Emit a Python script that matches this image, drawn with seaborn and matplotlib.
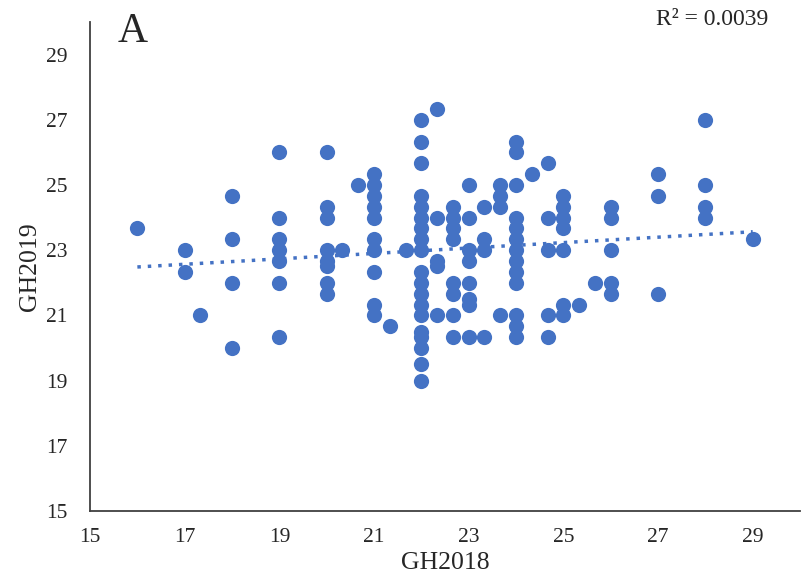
import matplotlib
matplotlib.use("Agg")
import matplotlib.pyplot as plt
import seaborn as sns
import numpy as np
import pandas as pd

# data read column by column (GH2018 value -> list of GH2019 values)
x16 = [23.67]
x17 = [23.0, 22.33]
x17_33 = [21.0]
x18 = [24.67, 23.33, 22.0, 20.0]
x19 = [26.0, 24.0, 23.33, 23.0, 22.67, 22.0, 20.33]
x20 = [26.0, 24.33, 24.0, 23.0, 22.67, 22.5, 22.0, 21.67]
x20_33 = [23.0]
x20_67 = [25.0]
x21 = [25.33, 25.0, 24.67, 24.33, 24.0, 23.33, 23.0, 22.33, 21.33, 21.0]
x21_33 = [20.67]
x21_67 = [23.0]
x22 = [27.0, 26.33, 25.67, 24.67, 24.33, 24.0, 23.67, 23.33, 23.0,
       22.33, 22.0, 21.67, 21.33, 21.0, 20.5, 20.33, 20.0, 19.5, 19.0]
x22_33 = [27.33, 24.0, 22.67, 22.5, 21.0]
x22_67 = [24.33, 24.0, 23.67, 23.33, 22.0, 21.67, 21.0, 20.33]
x23 = [25.0, 24.0, 23.0, 22.67, 22.0, 21.5, 21.33, 20.33]
x23_33 = [24.33, 23.33, 23.0, 20.33]
x23_67 = [25.0, 24.67, 24.33, 21.0]
x24 = [26.33, 26.0, 25.0, 24.0, 23.67, 23.33, 23.0, 22.67, 22.33, 22.0, 21.0, 20.67, 20.33]
x24_33 = [25.33]
x24_67 = [25.67, 24.0, 23.0, 21.0, 20.33]
x25 = [24.67, 24.33, 24.0, 23.67, 23.0, 21.33, 21.0]
x25_33 = [21.33]
x25_67 = [22.0]
x26 = [24.33, 24.0, 23.0, 22.0, 21.67]
x27 = [25.33, 24.67, 21.67]
x28 = [27.0, 25.0, 24.33, 24.0]
x29 = [23.33]

columns = {16: x16, 17: x17, 17.33: x17_33, 18: x18, 19: x19, 20: x20,
           20.33: x20_33, 20.67: x20_67, 21: x21, 21.33: x21_33, 21.67: x21_67,
           22: x22, 22.33: x22_33, 22.67: x22_67, 23: x23, 23.33: x23_33,
           23.67: x23_67, 24: x24, 24.33: x24_33, 24.67: x24_67, 25: x25,
           25.33: x25_33, 25.67: x25_67, 26: x26, 27: x27, 28: x28, 29: x29}

gh2018 = []
gh2019 = []
for k, vals in columns.items():
    for v in vals:
        gh2018.append(k)
        gh2019.append(v)
df = pd.DataFrame({"GH2018": gh2018, "GH2019": gh2019})

xticks = [15, 17, 19, 21, 23, 25, 27, 29]
yticks = [15, 17, 19, 21, 23, 25, 27, 29]

sns.set_style("white")
plt.rcParams['font.family'] = ['Liberation Serif', 'DejaVu Serif']

fig = plt.figure(figsize=(8.01, 5.88), dpi=100)
ax = fig.add_axes([0.1124, 0.131, 0.8864, 0.8316])

color = "#4472C4"
sns.regplot(data=df, x="GH2018", y="GH2019", ax=ax, ci=None, color=color,
            scatter_kws=dict(s=120, alpha=1, linewidths=0, zorder=3),
            line_kws=dict(linestyle=(0, (1, 2)), linewidth=2.5, color=color, zorder=2))

ax.set_xlim(15, 30)
ax.set_ylim(15, 30)
ax.set_xticks(xticks)
ax.set_yticks(yticks)
ax.tick_params(axis='x', labelsize=15.5, length=0, pad=12)
ax.tick_params(axis='y', labelsize=15.5, length=0, pad=16)
for s in ["top", "right"]:
    ax.spines[s].set_visible(False)
for s in ["left", "bottom"]:
    ax.spines[s].set_color("#404040")
    ax.spines[s].set_linewidth(1.3)
ax.set_xlabel("GH2018", fontsize=18.5, labelpad=4)
ax.set_ylabel("GH2019", fontsize=18.5, labelpad=4)

fig.text(0.147, 0.946, "A", fontsize=30, ha="left", va="center")
fig.text(0.959, 0.966, "R² = 0.0039", fontsize=17, ha="right", va="center")

fig.savefig("out.png", dpi=100)
